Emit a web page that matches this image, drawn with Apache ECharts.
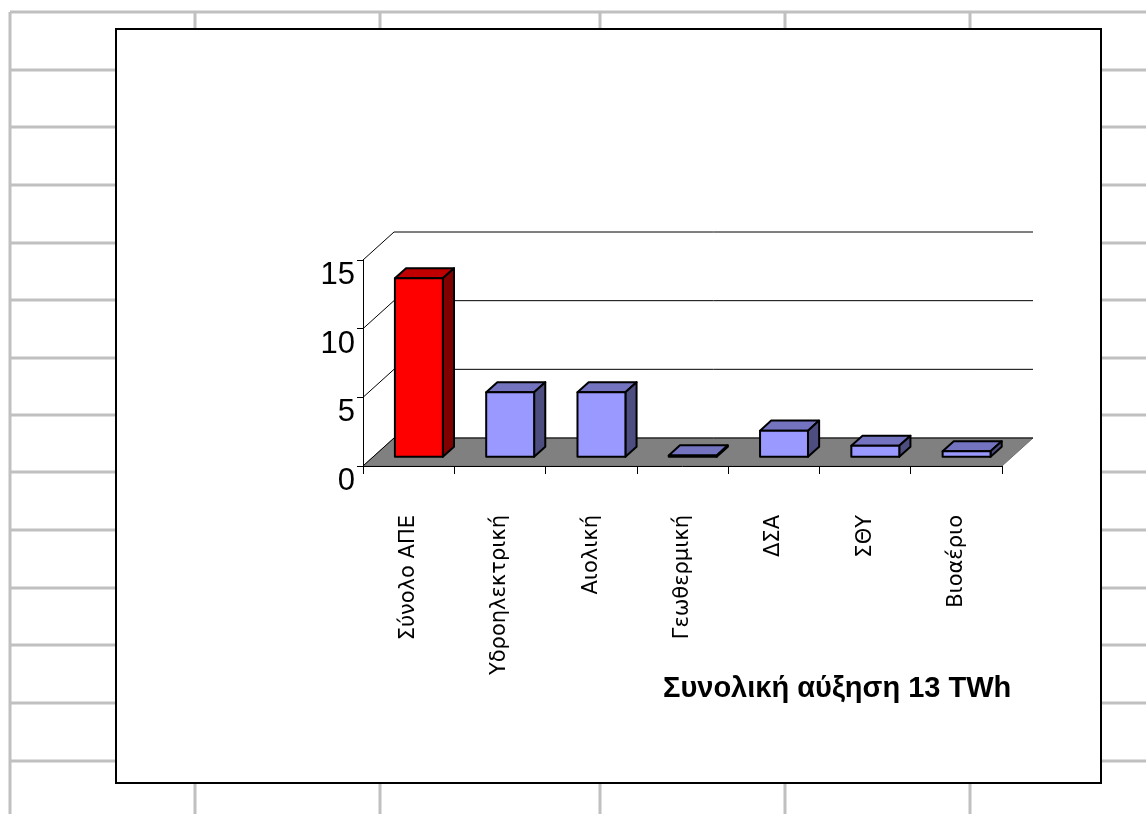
<!DOCTYPE html>
<html>
<head>
<meta charset="utf-8">
<script src="https://cdn.jsdelivr.net/npm/echarts@6/dist/echarts.min.js"></script>
<style>
html,body{margin:0;padding:0;background:#fff;}
#chart{width:1146px;height:814px;}
</style>
</head>
<body>
<div id="chart"></div>
<script>
// ---- data ----
const categories = ['Σύνολο ΑΠΕ', 'Υδροηλεκτρική', 'Αιολική', 'Γεωθερμική', 'ΔΣΑ', 'ΣΘΥ', 'Βιοαέριο'];
const values = [13, 4.7, 4.7, 0.1, 1.9, 0.8, 0.4];
const yTicks = [0, 5, 10, 15];
const titleText = 'Συνολική αύξηση 13 TWh';

// ---- styling ----
const DX = 31, DY = -28;           // depth vector of the 3D floor
const FRONT_F = 0.33, BACK_F = 0.69; // bar depth placement
const BAR_RATIO = 0.525;
const RED = {front: '#ff0000', top: '#c00000', side: '#800000'};
const BLUE = {front: '#9999ff', top: '#7373bf', side: '#4d4d80'};
const sheetRows = [12, 70, 127, 185, 243, 300, 358, 415, 472, 530, 588, 645, 703, 761];
const sheetCols = [10, 195, 380, 600, 785, 970];

const chart = echarts.init(document.getElementById('chart'), null, {renderer: 'canvas'});

const graphics = [];
sheetRows.forEach(y => graphics.push({type: 'line', silent: true, shape: {x1: 10, y1: y, x2: 1146, y2: y}, style: {stroke: '#c0c0c0', lineWidth: 3}}));
sheetCols.forEach(x => graphics.push({type: 'line', silent: true, shape: {x1: x, y1: 12, x2: x, y2: 814}, style: {stroke: '#c0c0c0', lineWidth: 3}}));
graphics.push({type: 'rect', silent: true, shape: {x: 116, y: 29, width: 985, height: 754}, style: {fill: '#fff', stroke: '#000', lineWidth: 2}});

function renderFloor(params, api) {
  const cs = params.coordSys;
  const y0 = api.coord([0, 0])[1];
  const xl = cs.x, xr = cs.x + cs.width;
  return {type: 'polygon', shape: {points: [[xl, y0], [xr, y0], [xr + DX, y0 + DY], [xl + DX, y0 + DY]]},
    style: {fill: '#808080', stroke: '#707070', lineWidth: 1}};
}

function renderWall(params, api) {
  const cs = params.coordSys;
  const v = api.value(1);
  const y = api.coord([0, v])[1];
  const xl = cs.x, xr = cs.x + cs.width;
  return {type: 'polyline', shape: {points: [[xl, y], [xl + DX, y + DY], [xr + DX, y + DY]]},
    style: {stroke: '#000', lineWidth: 1, fill: null}};
}

function renderBar(params, api) {
  const i = api.value(0), v = api.value(1);
  const base = api.coord([i, 0]);
  const top = api.coord([i, v]);
  const band = api.size([1, 0])[0];
  const w = band * BAR_RATIO;
  const fx = FRONT_F * DX, fy = FRONT_F * DY;
  const bx = (BACK_F - FRONT_F) * DX, by = (BACK_F - FRONT_F) * DY;
  const x0 = base[0] - w / 2 + fx, x1 = x0 + w;
  const yb = base[1] + fy, yt = top[1] + fy;
  const c = i === 0 ? RED : BLUE;
  const st = {stroke: '#000', lineWidth: 2, lineJoin: 'round'};
  return {type: 'group', children: [
    {type: 'polygon', shape: {points: [[x0, yt], [x1, yt], [x1 + bx, yt + by], [x0 + bx, yt + by]]}, style: Object.assign({fill: c.top}, st)},
    {type: 'polygon', shape: {points: [[x1, yt], [x1 + bx, yt + by], [x1 + bx, yb + by], [x1, yb]]}, style: Object.assign({fill: c.side}, st)},
    {type: 'rect', shape: {x: x0, y: yt, width: w, height: yb - yt}, style: Object.assign({fill: c.front}, st)}
  ]};
}

const option = {
  backgroundColor: '#ffffff',
  animation: false,
  graphic: {elements: graphics},
  title: {
    text: titleText, left: 663, top: 674, padding: 0,
    textStyle: {fontFamily: 'Liberation Sans, Arial, sans-serif', fontWeight: 'bold', fontSize: 29, color: '#000'}
  },
  grid: {left: 363, top: 260, width: 639, height: 206, containLabel: false},
  xAxis: {
    type: 'category', data: categories, z: 5,
    axisLine: {show: true, lineStyle: {color: '#000', width: 1}},
    axisTick: {show: true, length: 8, lineStyle: {color: '#000', width: 1}},
    axisLabel: {rotate: 90, margin: 49, fontSize: 21, fontFamily: 'DejaVu Sans, sans-serif', color: '#000', interval: 0},
    splitLine: {show: false}
  },
  yAxis: {
    type: 'value', min: 0, max: 15, interval: 5, z: 5,
    axisLine: {show: true, lineStyle: {color: '#000', width: 1}},
    axisTick: {show: true, length: 6, lineStyle: {color: '#000', width: 1}},
    axisLabel: {margin: 8, fontSize: 31, fontFamily: 'Liberation Sans, Arial, sans-serif', color: '#000', verticalAlign: 'top', lineHeight: 31},
    splitLine: {show: false}
  },
  series: [
    {type: 'custom', name: 'floor', z: 1, silent: true, renderItem: renderFloor, data: [[0, 0]], encode: {x: 0, y: 1}},
    {type: 'custom', name: 'wall', z: 2, silent: true, renderItem: renderWall, data: yTicks.map(v => [0, v]), encode: {x: 0, y: 1}},
    {type: 'custom', name: 'bars', z: 6, renderItem: renderBar, data: values.map((v, i) => [i, v]), encode: {x: 0, y: 1}}
  ]
};
chart.setOption(option);
</script>
</body>
</html>
